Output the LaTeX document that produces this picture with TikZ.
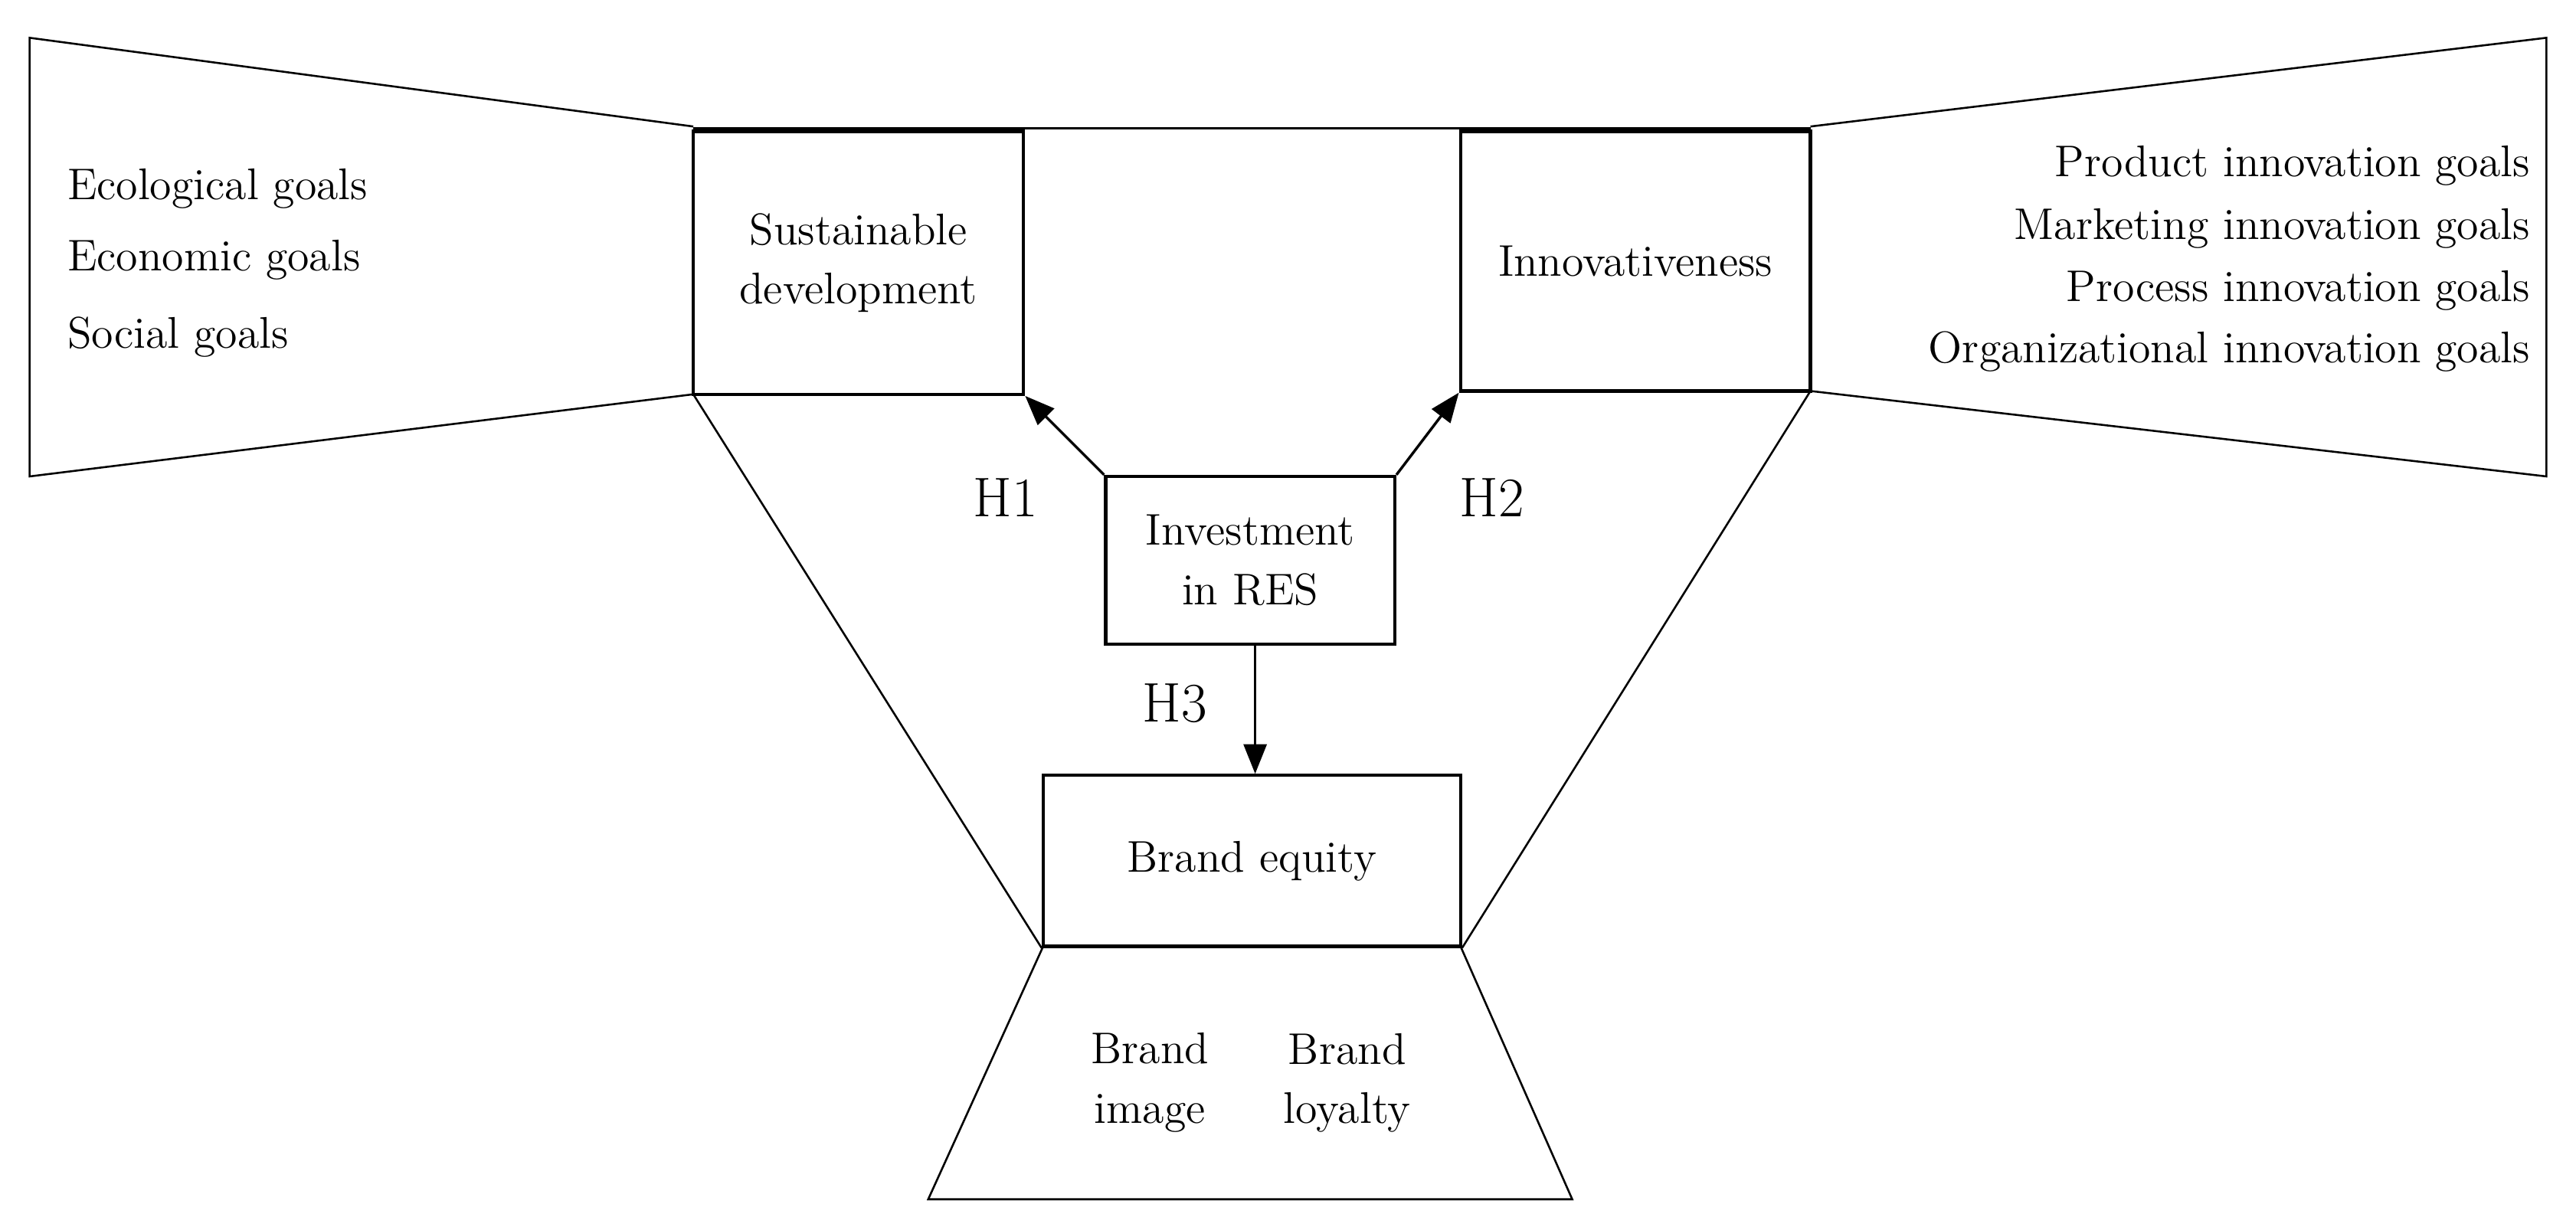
\documentclass[tikz,border=0pt]{standalone}
\usetikzlibrary{arrows.meta}
\begin{document}
\begin{tikzpicture}[x=0.5pt,y=-0.5pt,
  box/.style={draw,line width=1pt,inner sep=0pt},
  txt/.style={font=\fontsize{13.5}{18}\selectfont},
  hl/.style={font=\fontsize{17}{20}\selectfont},
  arr/.style={-{Triangle[length=9pt,width=7pt]},line width=0.8pt},
  ln/.style={line width=0.6pt}]
\useasboundingbox (0,0) rectangle (1568,745);
% trapezoids
\draw[ln] (422,77) -- (18,23) -- (18,290) -- (422,240);
\draw[ln] (1102,77) -- (1550,23) -- (1550,290) -- (1102,238);
\draw[ln] (422,78) -- (1102,78);
\draw[ln] (635,576) -- (565,730) -- (957,730) -- (889,576);
% boxes
\node[box,minimum width=201pt*0.5,minimum height=160pt*0.5,txt,align=center] (sd) at (522.5,160) {Sustainable\\development};
\node[box,minimum width=213pt*0.5,minimum height=158pt*0.5,txt] (inn) at (995.5,159) {Innovativeness};
\node[box,minimum width=176pt*0.5,minimum height=102pt*0.5,txt,align=center] (res) at (761,341) {Investment\\in RES};
\node[box,minimum width=254pt*0.5,minimum height=104pt*0.5,txt] (be) at (762,524) {Brand equity};
\coordinate (ltop) at (422,240);
\coordinate (rtop) at (1102,238);
\draw[ln] (ltop) -- (be.south west);
\draw[ln] (rtop) -- (be.south east);
% arrows
\draw[arr] (res.north west) -- (sd.south east);
\draw[arr] (res.north east) -- (inn.south west);
\draw[arr] (res.south) ++(3,0) coordinate (rs) -- (rs |- be.north);
% labels
\node[hl] (h1) at (612,303) {H1};
\node[hl] (h2) at (908,303) {H2};
\node[hl] (h3) at (715,428) {H3};
\node[txt,anchor=west] (e1) at (34,115) {Ecological goals};
\node[txt,anchor=west] (e2) at (34,158) {Economic goals};
\node[txt,anchor=west] (e3) at (34,205) {Social goals};
\node[txt,anchor=east] (r1) at (1547,101) {Product innovation goals};
\node[txt,anchor=east] (r2) at (1547,139) {Marketing innovation goals};
\node[txt,anchor=east] (r3) at (1547,177) {Process innovation goals};
\node[txt,anchor=east] (r4) at (1547,214) {Organizational innovation goals};
\node[txt,align=center] (bi) at (700,659) {Brand\\image};
\node[txt,align=center] (bl) at (820,659) {Brand\\loyalty};
\end{tikzpicture}
\end{document}
